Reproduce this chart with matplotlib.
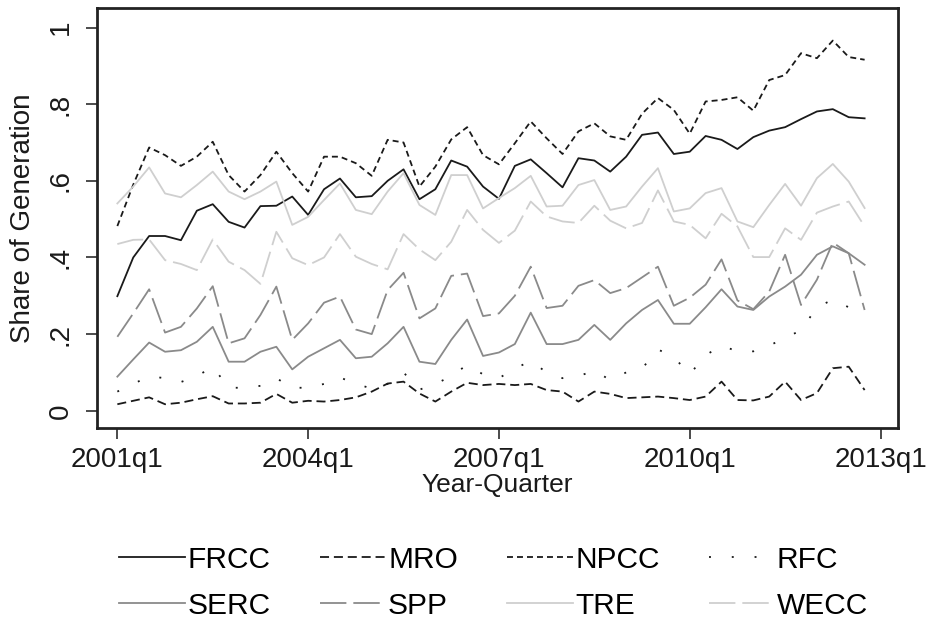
import numpy as np
import matplotlib
matplotlib.use('Agg')
import matplotlib.pyplot as plt

plt.rcParams['font.family'] = ['Liberation Sans', 'DejaVu Sans']
plt.rcParams['lines.scale_dashes'] = False

#%% quarterly generation shares by NERC region, 2001q1 - 2012q4
start_year = 2001
tick_years = [2001, 2004, 2007, 2010, 2013]

frcc = [0.299, 0.400, 0.456, 0.456, 0.445, 0.522, 0.539, 0.493, 0.478, 0.534, 0.535, 0.559,
        0.511, 0.578, 0.606, 0.557, 0.560, 0.600, 0.630, 0.552, 0.578, 0.653, 0.637, 0.585,
        0.553, 0.639, 0.656, 0.620, 0.583, 0.659, 0.653, 0.624, 0.663, 0.720, 0.726, 0.670,
        0.676, 0.717, 0.707, 0.683, 0.714, 0.731, 0.740, 0.761, 0.781, 0.787, 0.766, 0.763]
mro = [0.017, 0.026, 0.035, 0.017, 0.021, 0.030, 0.038, 0.019, 0.019, 0.021, 0.044, 0.021,
       0.026, 0.024, 0.028, 0.035, 0.050, 0.071, 0.076, 0.045, 0.024, 0.050, 0.073, 0.067,
       0.070, 0.067, 0.070, 0.054, 0.050, 0.024, 0.050, 0.044, 0.033, 0.035, 0.037, 0.033,
       0.028, 0.037, 0.076, 0.028, 0.027, 0.037, 0.076, 0.028, 0.046, 0.111, 0.115, 0.054]
npcc = [0.482, 0.590, 0.687, 0.667, 0.639, 0.663, 0.702, 0.615, 0.572, 0.615, 0.676, 0.620,
        0.572, 0.663, 0.663, 0.646, 0.613, 0.707, 0.700, 0.585, 0.637, 0.708, 0.740, 0.667,
        0.643, 0.698, 0.755, 0.711, 0.670, 0.729, 0.750, 0.716, 0.707, 0.775, 0.816, 0.785,
        0.723, 0.807, 0.811, 0.818, 0.783, 0.863, 0.876, 0.933, 0.920, 0.966, 0.923, 0.916]
rfc = [0.050, 0.070, 0.090, 0.085, 0.075, 0.090, 0.115, 0.060, 0.060, 0.065, 0.085, 0.060,
       0.060, 0.070, 0.087, 0.070, 0.058, 0.070, 0.100, 0.055, 0.070, 0.090, 0.120, 0.095,
       0.085, 0.110, 0.130, 0.100, 0.085, 0.090, 0.105, 0.080, 0.100, 0.110, 0.160, 0.140,
       0.095, 0.145, 0.170, 0.155, 0.155, 0.170, 0.190, 0.210, 0.270, 0.290, 0.270, 0.240]
serc = [0.089, 0.134, 0.178, 0.154, 0.158, 0.180, 0.219, 0.128, 0.128, 0.154, 0.167, 0.108,
        0.141, 0.163, 0.185, 0.137, 0.141, 0.176, 0.219, 0.128, 0.122, 0.185, 0.238, 0.143,
        0.152, 0.174, 0.256, 0.174, 0.174, 0.185, 0.224, 0.185, 0.228, 0.263, 0.289, 0.227,
        0.227, 0.270, 0.317, 0.272, 0.263, 0.298, 0.324, 0.355, 0.407, 0.429, 0.411, 0.381]
spp = [0.193, 0.254, 0.317, 0.204, 0.219, 0.267, 0.325, 0.176, 0.189, 0.250, 0.324, 0.185,
       0.228, 0.282, 0.298, 0.212, 0.200, 0.315, 0.360, 0.241, 0.267, 0.352, 0.358, 0.247,
       0.254, 0.300, 0.376, 0.268, 0.274, 0.326, 0.341, 0.307, 0.320, 0.348, 0.376, 0.274,
       0.295, 0.329, 0.395, 0.288, 0.265, 0.311, 0.407, 0.276, 0.342, 0.439, 0.411, 0.263]
tre = [0.541, 0.585, 0.635, 0.567, 0.557, 0.589, 0.624, 0.572, 0.552, 0.572, 0.598, 0.485,
       0.506, 0.550, 0.593, 0.524, 0.513, 0.572, 0.620, 0.537, 0.511, 0.615, 0.615, 0.528,
       0.555, 0.581, 0.613, 0.533, 0.535, 0.589, 0.602, 0.524, 0.533, 0.585, 0.633, 0.520,
       0.528, 0.568, 0.581, 0.494, 0.479, 0.537, 0.592, 0.535, 0.607, 0.644, 0.598, 0.529]
wecc = [0.435, 0.446, 0.447, 0.393, 0.383, 0.367, 0.447, 0.389, 0.367, 0.331, 0.467, 0.398,
        0.380, 0.400, 0.461, 0.402, 0.383, 0.369, 0.461, 0.421, 0.393, 0.441, 0.524, 0.472,
        0.438, 0.470, 0.546, 0.507, 0.494, 0.490, 0.535, 0.496, 0.476, 0.490, 0.575, 0.494,
        0.485, 0.450, 0.514, 0.481, 0.401, 0.401, 0.476, 0.446, 0.517, 0.533, 0.546, 0.481]

regions = ['FRCC', 'MRO', 'NPCC', 'RFC', 'SERC', 'SPP', 'TRE', 'WECC']
shares = [frcc, mro, npcc, rfc, serc, spp, tre, wecc]

# mono scheme: black / mid gray / light gray with different dash patterns
styles = {
    'FRCC': dict(color='#1a1a1a', ls='-'),
    'MRO':  dict(color='#1a1a1a', ls=(0, (6.5, 3.5))),
    'NPCC': dict(color='#1a1a1a', ls=(0, (4.3, 2.9))),
    'RFC':  dict(color='#1a1a1a', ls=(0, (1.4, 15))),
    'SERC': dict(color='#8a8a8a', ls='-'),
    'SPP':  dict(color='#8a8a8a', ls=(0, (19, 5))),
    'TRE':  dict(color='#cfcfcf', ls='-'),
    'WECC': dict(color='#cfcfcf', ls=(0, (19, 5))),
}

#%% plot
fig = plt.figure(figsize=(9.3, 6.24), dpi=100)
ax = fig.add_axes([0.1043, 0.3141, 0.8613, 0.6731])

x = np.arange(len(frcc))
lines = {}
for name, vals in zip(regions, shares):
    st = styles[name]
    ln, = ax.plot(x, vals, color=st['color'], linestyle=st['ls'], lw=1.3,
                  dash_capstyle='butt', label=name)
    lines[name] = ln

ax.set_xlim(-1.28, 49.1)
ax.set_ylim(-0.045, 1.051)

xticks = [4 * (y - start_year) for y in tick_years]
ax.set_xticks(xticks)
ax.set_xticklabels([f'{y}q1' for y in tick_years])
ax.set_yticks([0, 0.2, 0.4, 0.6, 0.8, 1.0])
ax.set_yticklabels(['0', '.2', '.4', '.6', '.8', '1'], rotation=90, va='center')

ax.tick_params(direction='out', length=8, width=1.1, labelsize=20, colors='#1a1a1a')
ax.tick_params(axis='y', pad=9)
ax.tick_params(axis='x', pad=6)
for sp in ax.spines.values():
    sp.set_linewidth(2.0)
    sp.set_color('#222222')

ax.set_xlabel('Year-Quarter', fontsize=19, labelpad=0, color='#1a1a1a')
ax.set_ylabel('Share of Generation', fontsize=20, labelpad=8, color='#1a1a1a')

# legend is filled column-wise, so interleave the two rows
order = ['FRCC', 'SERC', 'MRO', 'SPP', 'NPCC', 'TRE', 'RFC', 'WECC']
fig.legend([lines[n] for n in order], order, loc='center',
           bbox_to_anchor=(0.531, 0.066), ncol=4, frameon=False, fontsize=21.5,
           handlelength=2.2, handletextpad=0.08, columnspacing=1.65,
           labelspacing=0.6, borderpad=0)

fig.savefig('out.png', dpi=100)
